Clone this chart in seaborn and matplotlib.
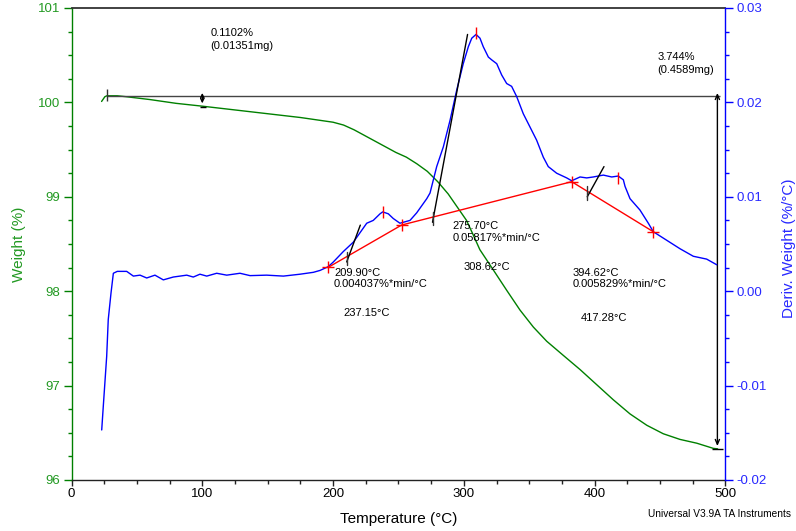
import numpy as np
import pandas as pd
import matplotlib
matplotlib.use("Agg")
import matplotlib.pyplot as plt
from matplotlib.ticker import MultipleLocator, FormatStrFormatter
import seaborn as sns

# ---------------- data ----------------
weight_T = [23, 25.5, 27, 35, 42, 60, 80, 100, 125, 150, 175, 190, 200, 208, 216, 224, 232, 240,
            248, 256, 264, 272, 280, 288, 295, 302, 307, 312.2, 322.5, 332.7, 342.9, 353.1,
            363.3, 376.0, 388.8, 401.5, 414.2, 427.0, 439.8, 452.4, 465.2, 478.0, 490.7, 494]
weight_W = [100.01, 100.06, 100.07, 100.07, 100.06, 100.03, 99.99, 99.96, 99.92, 99.88, 99.84,
            99.81, 99.79, 99.76, 99.71, 99.65, 99.59, 99.53, 99.47, 99.42, 99.35, 99.27, 99.16,
            99.03, 98.89, 98.75, 98.60, 98.44, 98.225, 98.01, 97.80, 97.62, 97.47, 97.32, 97.17,
            97.01, 96.85, 96.70, 96.58, 96.49, 96.43, 96.39, 96.335, 96.33]

deriv_T = [23.1, 24.3, 26.9, 28.1, 30.2, 32, 35, 42.2, 47.3, 52.4, 57.5, 63.8, 70.2, 77.8, 88.1,
           93.1, 98.2, 103.4, 111, 118.7, 128.8, 136.5, 149.2, 162, 174.7, 184.9, 190, 196.3,
           200.2, 207.8, 215.5, 225.7, 230.7, 235.9, 237.9, 242.2, 246, 251.1, 258.8, 263.9,
           271.6, 274.1, 279.2, 284.3, 289.4, 294.5, 299.5, 303.4, 306, 309.3, 312.3, 314.8,
           318.7, 321.3, 325.1, 328.9, 332.7, 336.5, 340.4, 345.4, 350.5, 355.6, 360.7, 364.5,
           370.9, 378.6, 382.4, 388.8, 393.9, 398.9, 406.6, 413, 418, 421.9, 423.2, 427,
           434.6, 441, 444.8, 455, 465.2, 475.4, 485.6, 493.3]
deriv_D = [-0.0147, -0.0122, -0.0069, -0.0030, -0.0002, 0.0019, 0.0021, 0.0021, 0.0016, 0.0017,
           0.0014, 0.0017, 0.0012, 0.0015, 0.0017, 0.0015, 0.0018, 0.0016, 0.0019, 0.0017,
           0.0019, 0.00165, 0.0017, 0.0016, 0.0018, 0.0020, 0.0022, 0.0026, 0.0031, 0.0042,
           0.0052, 0.0072, 0.0075, 0.0082, 0.0084, 0.0082, 0.0077, 0.0072, 0.0075, 0.0083,
           0.0098, 0.0104, 0.0132, 0.0153, 0.0181, 0.0213, 0.0241, 0.0259, 0.0268, 0.0272,
           0.0268, 0.0259, 0.0248, 0.0245, 0.0241, 0.0229, 0.0220, 0.0217, 0.0206, 0.0188,
           0.0174, 0.0160, 0.0142, 0.0132, 0.0125, 0.0120, 0.0117, 0.0121, 0.0120, 0.0121,
           0.0123, 0.0121, 0.0122, 0.0118, 0.0111, 0.0098, 0.0086, 0.0072, 0.0063, 0.0054,
           0.0045, 0.0037, 0.0034, 0.0028]

# peak-analysis baseline (red) and peak markers
baseline_T = [196.3, 252.4, 382.4, 444.8]
baseline_D = [0.00253, 0.00701, 0.0116, 0.0063]
peak_T = [237.9, 309.3, 418.0]
peak_D = [0.00844, 0.0274, 0.0120]

# onset tangent lines (black): start/end points
tangent_T0 = [210.4, 276.0, 394.3]
tangent_D0 = [0.0031, 0.0073, 0.0100]
tangent_T1 = [220.8, 302.8, 407.1]
tangent_D1 = [0.0070, 0.0272, 0.0132]

# weight-step analysis
step_level = 100.07
step1_T, step1_end = 100.0, 99.96
step2_T, step2_end = 493.8, 96.33

# text annotations
ann_texts = ["209.90°C\n0.004037%*min/°C", "237.15°C", "275.70°C\n0.05817%*min/°C", "308.62°C",
             "394.62°C\n0.005829%*min/°C", "417.28°C"]
ann_T = [200.7, 207.6, 291.4, 299.6, 383.2, 389.5]
ann_W = [98.25, 97.82, 98.74, 98.31, 98.25, 97.77]
step_texts = ["0.1102%\n(0.01351mg)", "3.744%\n(0.4589mg)"]
step_text_T = [106.0, 448.1]
step_text_W = [100.79, 100.53]

# ---------------- style ----------------
sns.set_style("ticks")
plt.rcParams["font.family"] = ["Liberation Sans", "DejaVu Sans"]

GREEN = "#008000"
GREEN_TXT = "#229922"
BLUE = "#0000ff"
BLUE_TXT = "#2828ff"
RED = "#ff0000"

fig = plt.figure(figsize=(7.96, 5.31), dpi=100)
ax = fig.add_axes([71.5 / 796, 1 - 480 / 531, 654 / 796, 472 / 531])
ax2 = ax.twinx()

wdf = pd.DataFrame({"T": weight_T, "W": weight_W})
ddf = pd.DataFrame({"T": deriv_T, "D": deriv_D})
sns.lineplot(data=wdf, x="T", y="W", ax=ax, color=GREEN, lw=1.0, estimator=None)
sns.lineplot(data=ddf, x="T", y="D", ax=ax2, color=BLUE, lw=1.0, estimator=None)

# axes ranges
ax.set_xlim(0, 500)
ax.set_ylim(96, 101)
ax2.set_ylim(-0.02, 0.03)
ax.xaxis.set_major_locator(MultipleLocator(100))
ax.xaxis.set_minor_locator(MultipleLocator(25))
ax.yaxis.set_major_locator(MultipleLocator(1))
ax.yaxis.set_minor_locator(MultipleLocator(0.25))
ax2.yaxis.set_major_locator(MultipleLocator(0.01))
ax2.yaxis.set_minor_locator(MultipleLocator(0.0025))
ax2.yaxis.set_major_formatter(FormatStrFormatter("%.2f"))
ax.yaxis.set_major_formatter(FormatStrFormatter("%d"))

# spines
for s in ax.spines.values():
    s.set_linewidth(1.0)
for s in ax2.spines.values():
    s.set_linewidth(1.0)
ax.spines["left"].set_color(GREEN)
ax.spines["bottom"].set_color("#222222")
ax.spines["top"].set_color("#333333")
ax.spines["top"].set_linewidth(1.3)
ax.spines["right"].set_visible(False)
ax2.spines["left"].set_visible(False)
ax2.spines["top"].set_visible(False)
ax2.spines["bottom"].set_visible(False)
ax2.spines["right"].set_color(BLUE)

ax.tick_params(axis="x", which="major", direction="out", length=4, width=1, colors="#222222",
               labelsize=9.5, labelcolor="black", pad=2)
ax.tick_params(axis="x", which="minor", direction="out", length=3, width=1, colors="#222222")
ax.tick_params(axis="y", which="major", direction="out", length=6, width=1, colors=GREEN,
               labelsize=9.5, labelcolor=GREEN_TXT, pad=2)
ax.tick_params(axis="y", which="minor", direction="out", length=3, width=1, colors=GREEN)
ax2.tick_params(axis="y", which="major", direction="out", length=6, width=1, colors=BLUE,
                labelsize=9.5, labelcolor=BLUE_TXT, pad=2)
ax2.tick_params(axis="y", which="minor", direction="out", length=3, width=1, colors=BLUE)

ax.set_xlabel("Temperature (°C)", fontsize=11, color="black")
ax.set_ylabel("Weight (%)", fontsize=11, color=GREEN_TXT)
ax2.set_ylabel("Deriv. Weight (%/°C)", fontsize=11, color=BLUE_TXT)
ax.xaxis.set_label_coords(0.5, -0.067)
ax.yaxis.set_label_coords(-0.070, 0.5)
ax2.yaxis.set_label_coords(1.086, 0.49)

# ---------------- weight-step annotation ----------------
ax.hlines(step_level, weight_T[2], 495.5, color="#444444", lw=1.0)
ax.vlines(weight_T[2], 100.01, 100.14, color="#333333", lw=1.0)
ax.annotate("", xy=(step1_T, step1_end), xytext=(step1_T, step_level + 0.06),
            arrowprops=dict(arrowstyle="<->,head_length=0.25,head_width=0.12", color="black", lw=1.0))
ax.hlines(step1_end - 0.01, step1_T - 2, step1_T + 2.5, color="black", lw=1.0)
ax.annotate("", xy=(step2_T, step2_end), xytext=(step2_T, step_level + 0.06),
            arrowprops=dict(arrowstyle="<->,head_length=0.35,head_width=0.15", color="black", lw=1.0))
ax.hlines(step2_end, 489.5, 498.4, color="black", lw=1.0)

# ---------------- derivative peak analysis ----------------
ax2.plot(baseline_T, baseline_D, color=RED, lw=1.0, marker="+", markersize=9, mew=1.0)
ax2.plot(peak_T, peak_D, ls="none", color=RED, marker="|", markersize=9, mew=1.0)
for t0, d0, t1, d1 in zip(tangent_T0, tangent_D0, tangent_T1, tangent_D1):
    ax2.plot([t0, t1], [d0, d1], color="black", lw=1.0)
    ax2.plot([t0, t0], [d0 - 0.0003, d0 + 0.0011], color="#333333", lw=1.0)

for txt, t, w in zip(ann_texts, ann_T, ann_W):
    ax.text(t, w, txt, fontsize=8, ha="left", va="top", color="black", linespacing=1.15)
for txt, t, w in zip(step_texts, step_text_T, step_text_W):
    ax.text(t, w, txt, fontsize=8, ha="left", va="top", color="black", linespacing=1.35)

fig.text(648 / 796, 1 - 514 / 531, "Universal V3.9A TA Instruments", fontsize=7.3,
         ha="left", va="center", color="black")

fig.savefig("out.png", dpi=100)
